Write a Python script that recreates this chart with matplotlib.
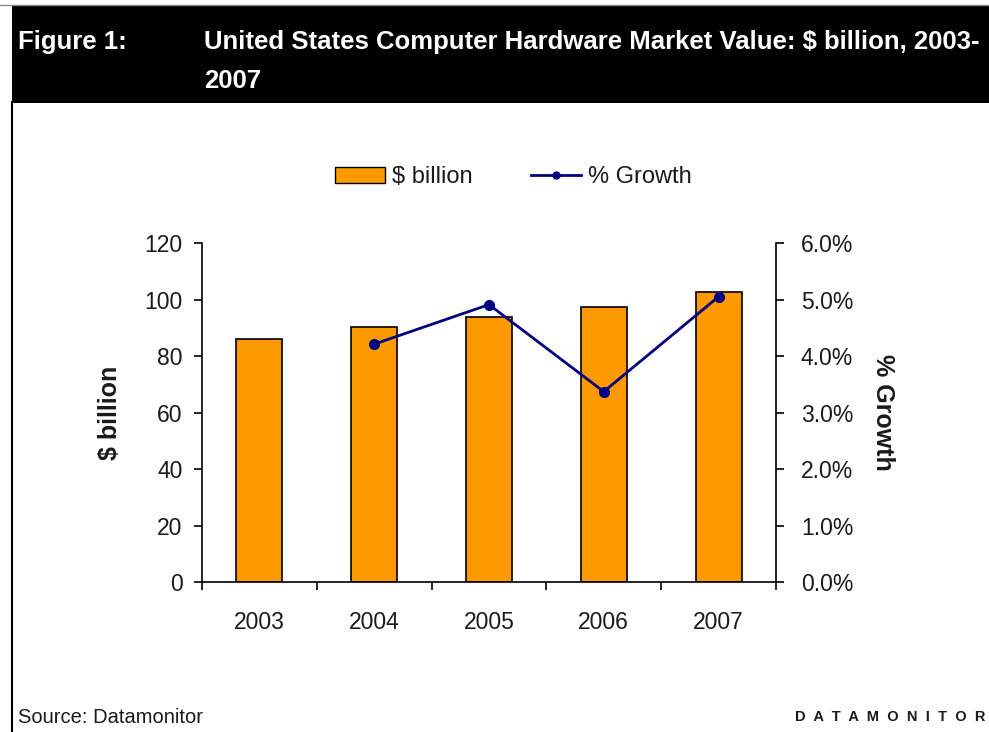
"""US computer hardware market value, 2003-2007: bars with growth line"""

import matplotlib
matplotlib.use("Agg")
import matplotlib.pyplot as plt
from matplotlib.patches import Rectangle
from matplotlib.lines import Line2D
from matplotlib.ticker import FuncFormatter

plt.rcParams['font.family'] = ['Liberation Sans', 'DejaVu Sans']

# Data
years = ['2003', '2004', '2005', '2006', '2007']
value_bn = [85.9, 90.3, 93.9, 97.3, 102.8]
growth_years = ['2004', '2005', '2006', '2007']
growth_pct = [4.21, 4.91, 3.37, 5.05]

BAR_COLOR = '#FF9900'
LINE_COLOR = '#000080'
TEXT_COLOR = '#1a1a1a'

fig = plt.figure(figsize=(9.89, 7.32), dpi=100)

# Header band
fig.add_artist(Rectangle((0.012, 0.859), 0.988, 0.134, transform=fig.transFigure,
                         facecolor='black', edgecolor='none'))
fig.add_artist(Line2D([0.0, 1.0], [0.993, 0.993], transform=fig.transFigure,
                      color='#888888', lw=1))
fig.add_artist(Line2D([0.0125, 0.0125], [0.0, 0.86], transform=fig.transFigure,
                      color='black', lw=1.5))
fig.text(0.018, 0.943, 'Figure 1:', color='white', fontsize=18.5, fontweight='bold',
         va='center')
fig.text(0.206, 0.943, 'United States Computer Hardware Market Value: $ billion, 2003-',
         color='white', fontsize=18.5, fontweight='bold', va='center')
fig.text(0.206, 0.889, '2007', color='white', fontsize=18.5, fontweight='bold',
         va='center')

# Main axes
ax = fig.add_axes([0.2042, 0.2049, 0.5804, 0.4631])
x = list(range(len(years)))
ax.bar(x, value_bn, width=0.4, color=BAR_COLOR, edgecolor='black', linewidth=1.2,
       zorder=2)
ax.set_xlim(-0.5, len(years) - 0.5)
ax.set_ylim(0, 120)
ax.set_yticks(range(0, 121, 20))
ax.set_xticks(x)
ax.set_xticklabels(years)
ax.set_xticks([i - 0.5 for i in range(len(years) + 1)], minor=True)
ax.tick_params(axis='x', which='major', length=0, pad=21, labelsize=16.5,
               labelcolor=TEXT_COLOR)
ax.tick_params(axis='x', which='minor', length=6, width=1.2, direction='out')
ax.tick_params(axis='y', length=6, width=1.2, direction='out', labelsize=16.5,
               pad=8, labelcolor=TEXT_COLOR)
ax.spines['top'].set_visible(False)
ax.spines['right'].set_visible(False)
for s in ('left', 'bottom'):
    ax.spines[s].set_linewidth(1.2)
ax.set_ylabel('$ billion', fontsize=18, fontweight='bold', labelpad=16,
              color=TEXT_COLOR)

# Growth on secondary axis
ax2 = ax.twinx()
gx = [years.index(y) for y in growth_years]
ax2.plot(gx, growth_pct, color=LINE_COLOR, lw=2, marker='o', markersize=7, zorder=3)
ax2.set_ylim(0, 6)
ax2.set_yticks(range(0, 7))
ax2.yaxis.set_major_formatter(FuncFormatter(lambda v, _: f'{v:.1f}%'))
ax2.tick_params(axis='y', length=6, width=1.2, direction='out', labelsize=16.5,
                pad=12, labelcolor=TEXT_COLOR)
ax2.spines['top'].set_visible(False)
ax2.spines['left'].set_visible(False)
ax2.spines['bottom'].set_visible(False)
ax2.spines['right'].set_linewidth(1.2)
ax2.set_ylabel('% Growth', fontsize=18, fontweight='bold', rotation=-90, labelpad=30,
               color=TEXT_COLOR)

# Legend
handles = [Rectangle((0, 0), 1, 1, facecolor=BAR_COLOR, edgecolor='black', lw=1),
           Line2D([], [], color=LINE_COLOR, lw=2, marker='o', markersize=5)]
leg = fig.legend(handles, ['$ billion', '% Growth'], loc='center', ncol=2,
                 bbox_to_anchor=(0.519, 0.758), frameon=False, fontsize=17,
                 handlelength=2.1, handletextpad=0.3, columnspacing=2.5)
for t in leg.get_texts():
    t.set_color(TEXT_COLOR)

# Footer
fig.text(0.018, 0.02, 'Source: Datamonitor', fontsize=14.5, va='center',
         color=TEXT_COLOR)
fig.text(0.996, 0.02, '  '.join('DATAMONITOR'), fontsize=10.5, fontweight='bold',
         ha='right', va='center', color=TEXT_COLOR)

fig.savefig('out.png', dpi=100)
